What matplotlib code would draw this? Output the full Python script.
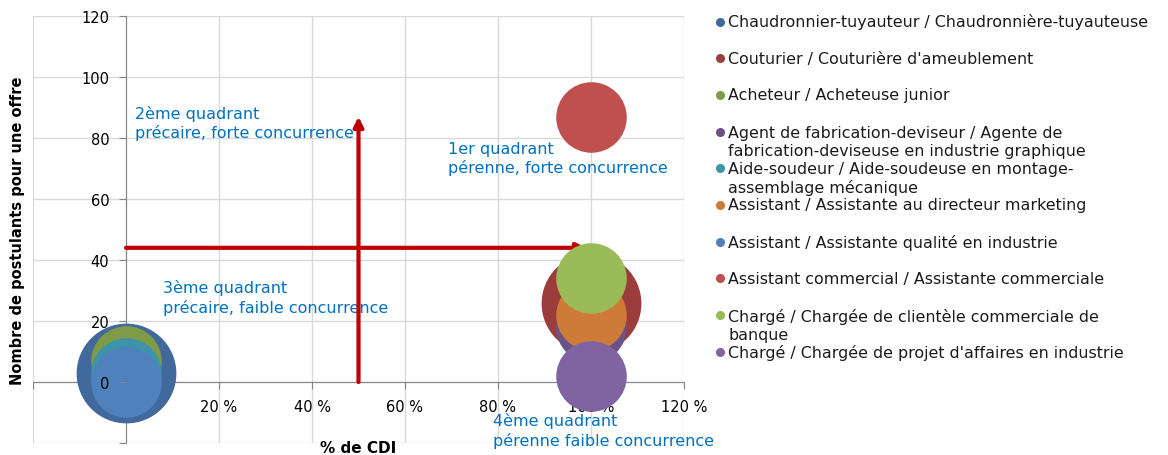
import matplotlib
matplotlib.use("Agg")
import matplotlib.pyplot as plt
from matplotlib.lines import Line2D
import numpy as np

# données
metiers = [
    "Chaudronnier-tuyauteur / Chaudronnière-tuyauteuse",
    "Couturier / Couturière d'ameublement",
    "Acheteur / Acheteuse junior",
    "Agent de fabrication-deviseur / Agente de\nfabrication-deviseuse en industrie graphique",
    "Aide-soudeur / Aide-soudeuse en montage-\nassemblage mécanique",
    "Assistant / Assistante au directeur marketing",
    "Assistant / Assistante qualité en industrie",
    "Assistant commercial / Assistante commerciale",
    "Chargé / Chargée de clientèle commerciale de\nbanque",
    "Chargé / Chargée de projet d'affaires en industrie",
]
pct_cdi = [0, 100, 0, 100, 0, 100, 0, 100, 100, 100]
postulants = [3, 26, 7, 18, 3, 22, 0, 87, 34, 2]
taille = [2, 2, 1, 1, 1, 1, 1, 1, 1, 1]
couleurs = ['#41699C', '#9B3E3B', '#7F9B48', '#6A528A', '#3C93AA',
            '#CF7B38', '#4F81BD', '#C0504D', '#9BBB59', '#8064A2']

xticks = [-20, 0, 20, 40, 60, 80, 100, 120]
xlabels = ['', '', '20 %', '40 %', '60 %', '80 %', '100 %', '120 %']
yticks = [-20, 0, 20, 40, 60, 80, 100, 120]
ylabels = ['', '0', '20', '40', '60', '80', '100', '120']

quadrants = [
    (1.9, 85.2, "2ème quadrant\nprécaire, forte concurrence"),
    (69.2, 73.4, "1er quadrant\npérenne, forte concurrence"),
    (8.0, 27.9, "3ème quadrant\nprécaire, faible concurrence"),
    (79.0, -15.7, "4ème quadrant\npérenne faible concurrence"),
]
seuil_cdi = 50
seuil_postulants = 44
fleche_x_fin = 99
fleche_y_fin = 87

W, H = 1168, 456
fig = plt.figure(figsize=(W / 100, H / 100), dpi=100)
ax = fig.add_axes([33 / W, 1 - 444 / H, (684 - 33) / W, (444 - 17) / H])
ax.set_xlim(-20, 120)
ax.set_ylim(-20, 120)

# quadrillage
for t in xticks:
    ax.axvline(t, color='#D9D9D9', lw=1, zorder=0)
for t in yticks:
    ax.axhline(t, color='#D9D9D9', lw=1, zorder=0)

ax.spines['top'].set_visible(False)
ax.spines['right'].set_visible(False)
ax.spines['left'].set_position(('data', 0))
ax.spines['bottom'].set_position(('data', 0))
for s in ['left', 'bottom']:
    ax.spines[s].set_color('#868686')
    ax.spines[s].set_zorder(0.6)

ax.set_xticks(xticks)
ax.set_xticklabels(xlabels)
ax.set_yticks(yticks)
ax.set_yticklabels(ylabels)
ax.tick_params(direction='out', length=5, color='#868686', labelsize=10.5,
               labelcolor='black', pad=7)
ax.xaxis.set_zorder(0.5)
ax.yaxis.set_zorder(5)

# textes des quadrants
for x, y, t in quadrants:
    ax.text(x, y, t, color='#0070C0', fontsize=11.5, va='center', ha='left',
            linespacing=1.25, zorder=0.7)

# flèches
ax.annotate('', xy=(seuil_cdi, fleche_y_fin), xytext=(seuil_cdi, 0),
            arrowprops=dict(arrowstyle='-|>', color='#C00000', lw=3,
                            mutation_scale=14, shrinkA=0, shrinkB=0),
            zorder=0.8)
ax.annotate('', xy=(fleche_x_fin, seuil_postulants), xytext=(0, seuil_postulants),
            arrowprops=dict(arrowstyle='-|>', color='#C00000', lw=3,
                            mutation_scale=14, shrinkA=0, shrinkB=0),
            zorder=0.8)

# bulles
for i in range(len(metiers)):
    ax.scatter(pct_cdi[i], postulants[i], s=taille[i] * 2580, color=couleurs[i],
               linewidths=0, zorder=1 + i * 0.1, clip_on=False)

fig.text(358 / W, 1 - 449 / H, '% de CDI', fontsize=11, fontweight='bold',
         ha='center', va='center')
fig.text(18 / W, 1 - 231 / H, 'Nombre de postulants pour une offre',
         fontsize=10.5, fontweight='bold', rotation=90, ha='center', va='center')

# légende
for i, nom in enumerate(metiers):
    yc = 22.5 + i * 36.7
    n = nom.count('\n')
    fig.add_artist(Line2D([720 / W], [1 - yc / H], marker='o', color=couleurs[i],
                          markersize=5.5, linestyle='none',
                          transform=fig.transFigure))
    fig.text(728 / W, 1 - (yc + n * 10) / H, nom, fontsize=11.4, va='center',
             ha='left', linespacing=1.25, color='#1A1A1A')

fig.savefig('out.png', dpi=100)
